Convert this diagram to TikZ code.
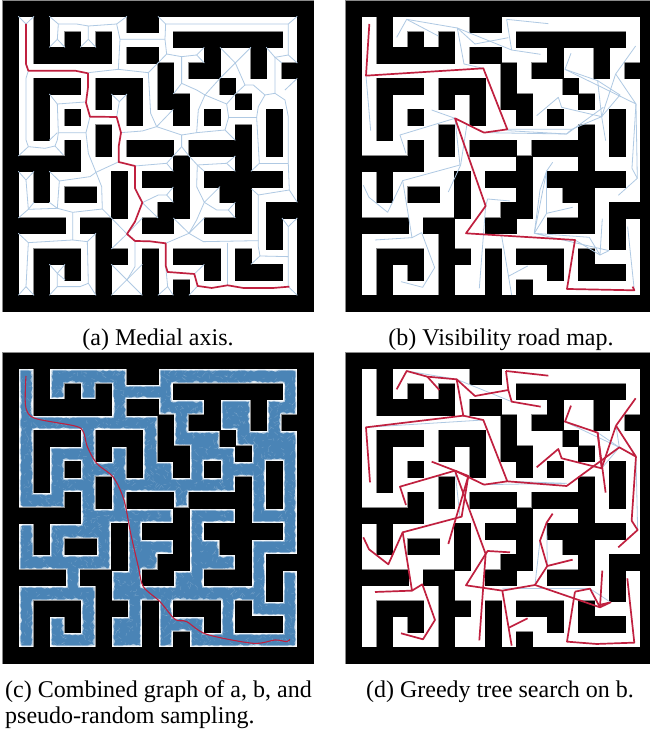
\documentclass[tikz,border=0pt]{standalone}
\usepackage{fontspec}
\setmainfont{Liberation Serif}
\definecolor{wallgray}{HTML}{8A8A8A}
\definecolor{graph}{HTML}{AFC9E3}
\definecolor{dense}{HTML}{4A84B6}
\definecolor{route}{HTML}{C0203F}
\tikzset{
  x=1pt,y=-1pt,
  axisline/.style={draw=graph,line width=0.8pt,line join=round},
  routeline/.style={draw=route,line width=1.7pt,line join=round},
  captiontext/.style={font=\fontsize{24}{24}\selectfont,inner sep=0pt},
}
\def\wallruns{0/0/20,1/0/1,1/2/3,1/8/10,1/19/20,2/0/1,2/2/3,2/4/5,2/6/7,2/11/18,2/19/20,3/0/1,3/2/7,3/8/10,3/13/14,3/16/17,3/19/20,4/0/1,4/10/11,4/12/14,4/16/17,4/18/20,5/0/1,5/2/5,5/6/9,5/10/11,5/14/15,5/19/20,6/0/1,6/2/3,6/6/7,6/8/9,6/10/12,6/15/16,6/19/20,7/0/1,7/2/3,7/4/5,7/8/9,7/11/12,7/13/14,7/17/18,7/19/20,8/0/1,8/2/3,8/6/7,8/15/16,8/17/18,8/19/20,9/0/1,9/4/5,9/6/7,9/8/11,9/12/16,9/17/18,9/19/20,10/0/5,10/11/12,10/15/16,10/19/20,11/0/1,11/2/3,11/7/8,11/9/12,11/13/18,11/19/20,12/0/1,12/2/3,12/4/6,12/7/8,12/11/12,12/14/16,12/19/20,13/0/1,13/7/8,13/10/12,13/15/16,13/17/20,14/0/4,14/5/7,14/9/11,14/13/16,14/17/18,14/19/20,15/0/1,15/6/7,15/17/18,15/19/20,16/0/1,16/2/5,16/6/8,16/9/10,16/11/14,16/15/16,16/19/20,17/0/1,17/2/3,17/4/5,17/6/7,17/9/10,17/13/14,17/15/18,17/19/20,18/0/1,18/2/3,18/6/7,18/9/10,18/11/12,18/19/20,19/0/20}
% #1 x origin, #2 y origin (reference pixels)
\newcommand{\mazeedges}[3]{\begin{scope}[shift={(#1,#2)},x=15.5pt,y=-15.5pt]
  \foreach \r/\a/\b in \wallruns {\draw[#3] (\a,\r) rectangle (\b,\r+1);}
\end{scope}}
\newcommand{\mazewalls}[2]{\begin{scope}[shift={(#1,#2)},x=15.5pt,y=-15.5pt]
  \foreach \r/\a/\b in \wallruns {\fill[black] (\a,\r) rectangle (\b,\r+1);\draw[black,line width=0.15pt] (\a,\r) rectangle (\b,\r+1);}
\end{scope}}
\begin{document}
\begin{tikzpicture}
\useasboundingbox (0,0) rectangle (650,734);
\fill[white] (0,0) rectangle (650,734);
% ---------- panel a
\mazeedges{3}{1}{draw=wallgray,line width=1.1pt}
\mazewalls{3}{1}
\begin{scope}[x=0.3333pt,y=-0.3333pt]
\foreach \p in {
 {(55,49)--(78,72)--(102,49)},
 {(85,212)--(78,235)--(78,420)--(85,440)--(55,468)},
 {(85,440)--(135,445)--(165,438)--(172,420)--(175,398)--(258,398)},
 {(165,438)--(190,465)},
 {(175,398)--(172,312)--(255,306)},{(148,282)--(172,312)},{(172,398)--(148,421)},
 {(270,350)--(258,398)--(265,460)--(288,517)--(355,486)},
 {(288,517)--(270,530)--(178,543)--(148,514)},
 {(178,543)--(172,625)--(148,607)},
 {(288,517)--(305,560)--(307,627)--(218,637)--(172,625)--(85,628)--(55,654)},
 {(85,628)--(78,540)--(55,514)},{(78,540)--(102,514)},{(85,628)--(102,607)},{(307,627)--(334,654)},
 {(218,637)--(218,720)--(85,728)--(55,700)},{(218,720)--(262,725)--(288,700)},
 {(85,728)--(78,860)--(55,886)},{(78,860)--(102,886)},
 {(262,725)--(265,850)--(288,886)},{(265,850)--(240,860)--(172,860)--(148,886)},
 {(172,860)--(172,820)--(148,793)},{(172,820)--(195,793)},{(172,820)--(195,840)},
 {(148,49)--(175,72)--(230,72)--(265,78)--(350,72)--(381,49)},
 {(175,72)--(172,118)--(148,142)},{(172,118)--(195,142)},
 {(265,78)--(265,118)--(241,142)},{(265,118)--(288,142)},
 {(350,72)--(360,118)--(355,208)},
 {(360,118)--(495,118)--(497,72)--(474,49)},
 {(497,72)--(865,72)--(892,49)},{(865,72)--(865,165)--(892,189)},
 {(865,165)--(825,172)--(825,280)},{(825,172)--(799,142)},{(825,172)--(846,189)},
 {(495,118)--(500,162)--(545,170)--(590,165)--(613,142)},{(590,165)--(613,189)},{(500,162)--(474,189)},
 {(545,170)--(545,250)--(520,282)},
 {(545,250)--(590,270)--(615,285)--(680,312)--(706,282)},{(615,285)--(660,235)},
 {(615,285)--(595,330)--(590,398)},
 {(680,312)--(686,352)--(675,390)--(706,421)},{(686,352)--(770,352)},
 {(675,390)--(590,398)--(545,405)--(470,380)--(520,328)},
 {(545,405)--(545,440)--(520,468)},{(545,440)--(567,468)},
 {(265,218)--(355,208)--(445,218)--(474,189)},
 {(445,218)--(452,340)--(470,380)--(427,393)--(363,398)},
 {(350,351)--(358,305)--(334,282)},{(358,305)--(381,282)},
 {(660,142)--(706,189)--(753,142)},{(706,189)--(660,235)},
 {(706,189)--(735,255)--(706,282)},{(735,255)--(760,255)--(795,285)},
 {(825,280)--(795,285)--(775,320)--(770,352)--(778,490)--(753,514)},
 {(778,490)--(865,490)},
 {(825,280)--(855,300)--(865,350)--(865,490)--(868,570)--(892,607)},
 {(855,270)--(892,235)},
 {(868,570)--(775,585)--(755,567)},
 {(775,585)--(775,740)--(780,768)--(865,770)--(865,860)--(892,886)},
 {(865,770)--(865,680)--(846,654)},{(865,680)--(892,654)},{(780,768)--(753,793)},
 {(567,468)--(592,495)--(680,490)--(706,468)},{(680,490)--(706,514)},{(592,495)--(613,514)},
 {(592,495)--(590,560)--(613,607)--(660,560)},
 {(613,607)--(650,630)--(685,630)--(706,607)},{(685,630)--(706,654)},
 {(613,607)--(590,660)--(567,700)--(520,654)},{(567,700)--(613,654)},{(567,700)--(497,730)},
 {(567,700)--(610,725)--(775,722)},{(683,728)--(683,856)},
 {(405,498)--(500,490)--(520,468)},{(500,490)--(520,514)},
 {(427,608)--(475,585)--(500,585)--(520,561)},{(500,585)--(520,607)},{(427,608)--(474,654)},
 {(381,702)--(334,654)},{(381,702)--(334,747)},{(381,702)--(427,654)},
 {(405,723)--(405,800)--(381,840)},
 {(334,793)--(427,886)},{(334,886)--(427,793)},
 {(497,797)--(503,860)--(474,886)},{(503,860)--(520,886)},
 {(583,822)--(613,793)},{(593,858)--(567,886)}
}{\draw[axisline] \p;}
\draw[routeline] (78,72)--(78,192)--(85,212)--(225,212)--(264,220)--(264,262)--(258,308)--(270,350)--(350,351)--(363,398)--(356,440)--(356,486)--(405,498)--(405,565)--(427,608)--(405,665)--(381,702)--(405,723)--(450,724)--(497,730)--(497,797)--(503,816)--(583,822)--(593,858)--(635,864)--(683,856)--(730,864)--(820,864)--(868,860);
\end{scope}
% ---------- panel b
\mazeedges{346}{1}{draw=wallgray,line width=1.1pt}
\mazewalls{346}{1}
\begin{scope}[shift={(340,0)},x=0.3333pt,y=-0.3333pt]
\foreach \p in {
 {(170,112)--(200,58)--(352,84)--(372,192)--(430,205)},{(200,58)--(295,108)},
 {(352,84)--(405,132)--(505,113)},{(352,84)--(515,150)--(602,163)},
 {(500,58)--(515,150)},{(500,58)--(625,71)},{(78,227)--(92,392)},
 {(275,330)--(345,355)--(180,405)--(198,460)},
 {(345,355)--(360,495)--(188,542)--(143,637)--(87,592)--(70,556)},
 {(188,542)--(216,713)--(105,720)},
 {(216,713)--(245,698)--(284,803)--(248,862)--(183,845)},
 {(381,372)--(362,495)--(325,576)},{(345,355)--(381,372)},
 {(432,398)--(680,402)--(790,322)},{(502,388)--(695,388)--(785,350)--(665,322)--(655,292)--(590,347)},
 {(680,402)--(695,388)},{(502,392)--(680,402)},
 {(785,350)--(797,422)},{(785,350)--(773,242)--(675,208)--(693,160)},
 {(675,208)--(888,312)--(827,222)--(887,138)},{(773,242)--(840,285)--(785,350)},{(827,222)--(785,350)},
 {(888,312)--(876,505)--(892,535)--(835,586)},{(888,312)--(892,535)},
 {(437,618)--(443,597)--(510,603)},{(437,618)--(418,865)},
 {(485,708)--(515,885)},{(507,828)--(563,798)},
 {(583,700)--(620,513)--(638,487)},{(583,700)--(600,570)--(620,513)},
 {(620,640)--(698,622)},{(620,640)--(620,513)},{(583,700)--(620,640)},
 {(583,700)--(748,712)--(780,765)--(807,752)--(583,700)},{(705,720)--(780,765)},
 {(787,656)--(780,765)},{(863,680)--(883,871)}
}{\draw[axisline] \p;}
\draw[routeline] (88,72)--(78,227)--(430,205)--(502,388)--(432,398)--(345,355)--(437,618)--(378,700)--(705,720)--(681,867)--(883,871)--(878,860);
\end{scope}
% ---------- panel c
\begin{scope}[shift={(3,353)}]
\fill[dense] (15.5,15.5) rectangle (294.5,294.5);
\begin{scope}
\clip (15.5,15.5) rectangle (294.5,294.5);
\pgfmathsetseed{7}
\foreach \i in {1,...,2600}{
  \pgfmathsetmacro{\xa}{rnd*279+15.5}
  \pgfmathsetmacro{\ya}{rnd*279+15.5}
  \pgfmathsetmacro{\xb}{\xa+rnd*8-4}
  \pgfmathsetmacro{\yb}{\ya+rnd*8-4}
  \draw[white,opacity=0.17,line width=0.5pt] (\xa,\ya)--(\xb,\yb);
}
\end{scope}
\begin{scope}[x=15.5pt,y=-15.5pt]
\foreach \r/\a/\b in \wallruns {
  \pgfmathsetmacro{\runlen}{int(3*(\b-\a)+1)}
  \foreach \k in {1,...,\runlen}{
    \pgfmathsetmacro{\ux}{\a+rnd*(\b-\a)}
    \pgfmathsetmacro{\uy}{\r+rnd}
    \pgfmathsetmacro{\rad}{rnd*2.2+1.4}
    \fill[white,opacity=0.45] (\ux,\r) circle[radius=\rad pt];
    \fill[white,opacity=0.45] (\ux,\r+1) circle[radius=\rad pt];
    \fill[white,opacity=0.45] (\a,\uy) circle[radius=\rad pt];
    \fill[white,opacity=0.45] (\b,\uy) circle[radius=\rad pt];
  }
}
\end{scope}
\end{scope}
\mazeedges{3}{353}{draw=white,opacity=0.35,line width=5pt}
\mazeedges{3}{353}{draw=white,opacity=0.8,line width=3pt}
\mazeedges{3}{353}{draw=wallgray,line width=1.1pt}
\mazewalls{3}{353}
\begin{scope}[shift={(0,350)},x=0.3333pt,y=-0.3333pt]
\draw[routeline,line width=1.1pt] plot[smooth,tension=0.5] coordinates {(78,78)(76,120)(78,175)(105,205)(225,228)(250,245)(262,290)(290,340)(340,382)(372,450)(392,550)(415,650)(430,710)(480,755)(525,808)(560,815)(620,853)(760,880)(825,870)(860,875)(870,868)};
\end{scope}
% ---------- panel d
\mazeedges{346}{353}{draw=wallgray,line width=1.1pt}
\mazewalls{346}{353}
\begin{scope}[shift={(340,350)},x=0.3333pt,y=-0.3333pt]
\foreach \p in {
 {(200,63)--(350,88)--(515,155)},{(78,232)--(430,210)},{(345,362)--(360,500)},
 {(432,404)--(680,400)--(502,394)},{(487,715)--(750,716)--(812,757)},
 {(620,518)--(622,648)},{(600,572)--(585,705)},{(437,612)--(378,706)},
 {(675,215)--(838,292)},{(773,248)--(838,292)},{(828,227)--(838,292)--(785,355)},{(888,320)--(893,540)}
}{\draw[axisline] \p;}
\foreach \p in {
 {(170,118)--(200,63)--(262,80)--(350,88)--(405,138)--(505,120)--(515,155)--(602,170)},
 {(498,63)--(625,77)},{(498,63)--(505,120)},{(262,80)--(298,120)},
 {(350,88)--(370,197)--(78,232)--(90,397)},
 {(370,197)--(430,210)--(502,394)--(432,404)--(345,362)--(275,335)},
 {(502,394)--(680,408)--(838,292)--(888,320)--(828,227)--(887,145)},
 {(828,227)--(785,355)--(665,325)--(655,297)--(590,352)},
 {(785,355)--(773,248)--(675,215)--(693,167)},{(773,248)--(797,428)},
 {(888,320)--(875,512)--(893,540)--(835,592)},
 {(345,362)--(180,410)--(198,465)},
 {(345,362)--(385,378)--(365,500)--(188,547)--(145,643)--(87,598)--(70,562)},
 {(385,378)--(325,582)},
 {(345,362)--(437,612)--(378,706)--(487,722)--(585,705)--(780,772)--(812,757)--(778,765)},
 {(188,547)--(216,722)--(105,726)},
 {(216,722)--(247,703)--(285,810)--(249,868)--(183,850)},
 {(437,612)--(443,603)--(510,607)},{(437,612)--(418,871)},
 {(487,722)--(515,887)},{(507,833)--(563,805)},
 {(585,705)--(622,648)--(600,572)--(620,518)--(638,491)},{(622,648)--(698,629)},
 {(705,725)--(750,716)--(780,772)},
 {(705,725)--(681,875)--(770,882)--(883,878)--(862,685)},
 {(787,662)--(780,772)}
}{\draw[routeline] \p;}
\end{scope}
% ---------- captions
\node[captiontext,anchor=base] (capa) at (158,345) {(a) Medial axis.};
\node[captiontext,anchor=base] (capb) at (501,345) {(b) Visibility road map.};
\node[captiontext,anchor=base west] (capc) at (5,697) {(c) Combined graph of a, b, and};
\node[captiontext,anchor=base west] (capcc) at (5,723) {pseudo-random sampling.};
\node[captiontext,anchor=base] (capd) at (500,697) {(d) Greedy tree search on b.};
\end{tikzpicture}
\end{document}
